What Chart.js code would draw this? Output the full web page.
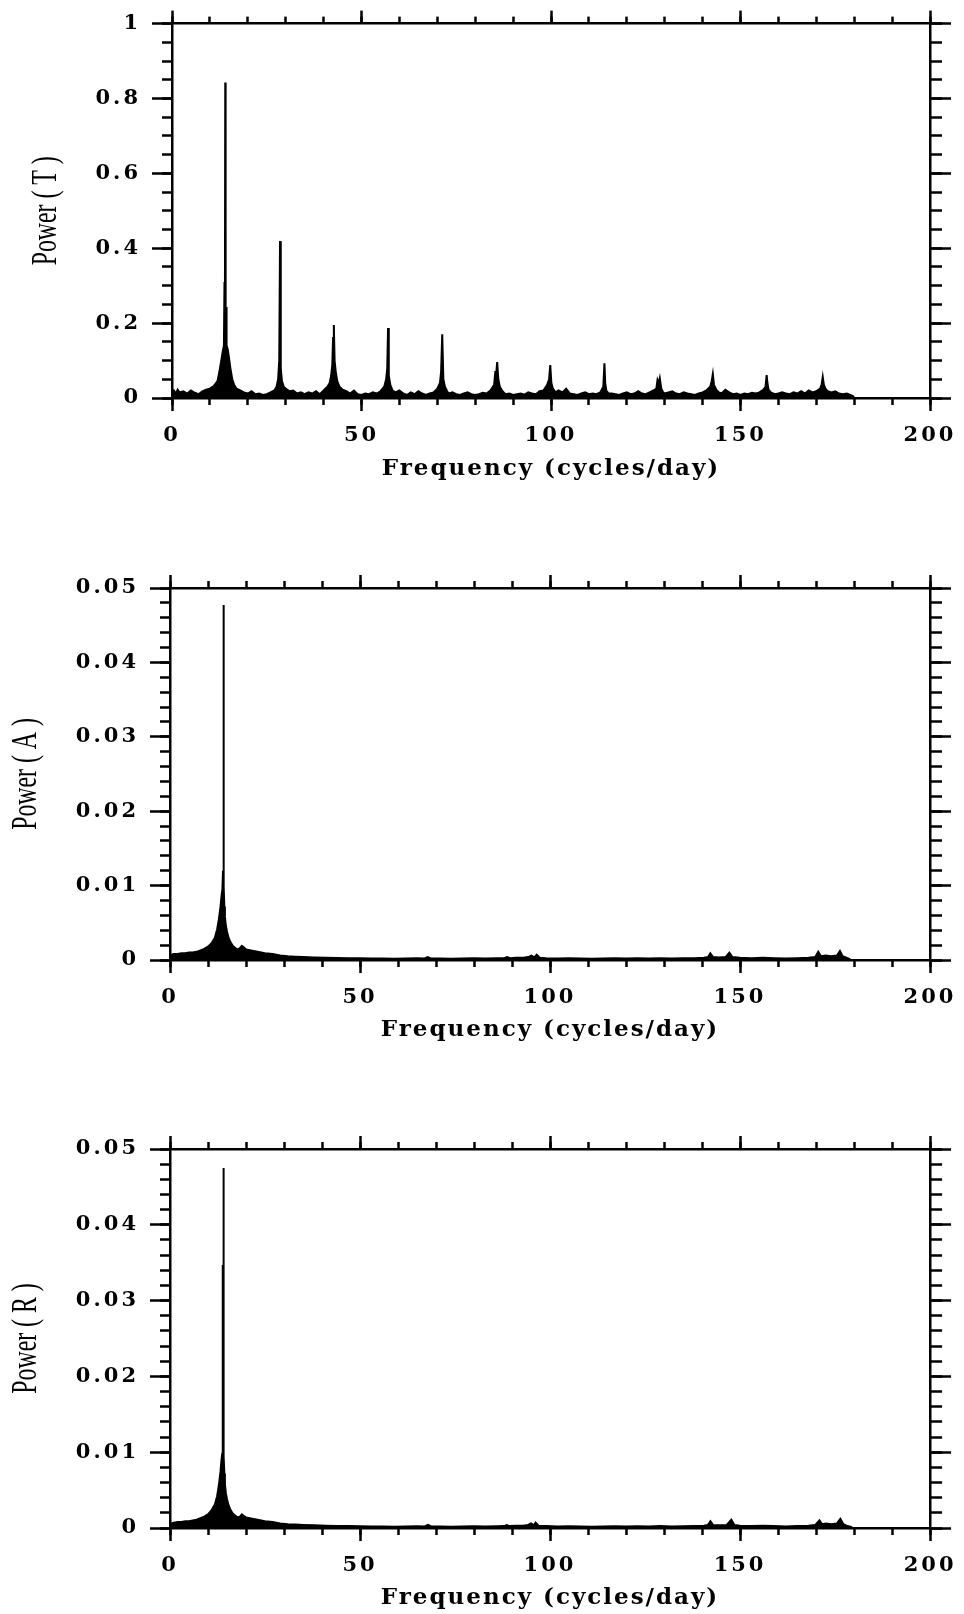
<!DOCTYPE html>
<html>
<head>
<meta charset="utf-8">
<title>Power spectra T / A / R</title>
<script src="https://cdn.jsdelivr.net/npm/chart.js@4.4.1/dist/chart.umd.min.js"></script>
<style>
  html, body { margin: 0; padding: 0; background: #fff; }
  body { width: 964px; height: 1614px; position: relative; overflow: hidden; }
  canvas { position: absolute; left: 0; }
</style>
</head>
<body>
<canvas id="chartT" width="964" height="490" style="top:0px"></canvas>
<canvas id="chartA" width="964" height="570" style="top:490px"></canvas>
<canvas id="chartR" width="964" height="554" style="top:1060px"></canvas>

<script>
// ----------------------
// data
// ----------------------
const xLabels = ["0", "50", "100", "150", "200"];
const yLabelsT = ["0", "0.2", "0.4", "0.6", "0.8", "1"];
const yLabelsAR = ["0", "0.01", "0.02", "0.03", "0.04", "0.05"];
const xTitle = "Frequency (cycles/day)";

// Power (T) – frequency / power, grouped by stretch of spectrum
const freqT = [
  0, 0.5, 1, 1.5, 2, 3, 4, 5, 6, 7, 8, 9, 10, 11,
  12.0, 12.5, 13.0, 13.4, 13.7, 13.85, 13.95, 14.05, 14.15, 14.25, 14.4, 14.7, 15.0, 15.4, 15.9, 16.4, 17.0,
  18, 19, 20, 21, 22, 23, 24, 25, 26, 27,
  27.6, 28.0, 28.3, 28.5, 28.7, 29.0, 29.5,
  30, 31, 32, 33, 34, 35, 36, 37, 38, 39, 40, 41,
  41.6, 42.0, 42.3, 42.5, 42.7, 42.9, 43.2, 43.6, 44.2, 45,
  46, 47, 48, 49, 50, 51, 52, 53, 54, 55, 56,
  56.5, 56.8, 57.0, 57.2, 57.6, 58.2,
  59, 60, 61, 62, 63, 64, 65, 66, 67, 68, 69, 70,
  70.7, 71.0, 71.3, 71.6, 72.0, 72.6,
  73, 74, 75, 76, 77, 78, 79, 80, 81, 82, 83, 84, 85,
  85.3, 85.6, 85.8, 86.1, 86.5, 87.2,
  88, 89, 90, 91, 92, 93, 94, 95, 96, 97, 98, 99,
  99.5, 99.8, 100.1, 100.5, 101.2,
  102, 103, 104, 105, 106, 107, 108, 109, 110, 111, 112, 113,
  113.8, 114.1, 114.3, 114.6, 115.2,
  116, 117, 118, 119, 120, 121, 122, 123, 124, 125, 126, 127,
  127.8, 128.1, 128.4, 128.7, 129.1, 129.6,
  130, 131, 132, 133, 134, 135, 136, 137, 138, 139, 140, 141,
  142.0, 142.4, 142.7, 143.0, 143.6, 144.3,
  145, 146, 147, 148, 149, 150, 151, 152, 153, 154, 155, 156,
  156.6, 156.9, 157.1, 157.4, 158,
  159, 160, 161, 162, 163, 164, 165, 166, 167, 168, 169, 170, 171,
  171.4, 171.7, 172.0, 172.4, 173,
  174, 175, 176, 177, 178, 179, 180
];
const powerT = [
  0.01, 0.02, 0.012, 0.022, 0.015, 0.018, 0.012, 0.02, 0.014, 0.01, 0.018, 0.022, 0.025, 0.032,
  0.045, 0.07, 0.1, 0.125, 0.14, 0.31, 0.15, 0.843, 0.16, 0.243, 0.14, 0.13, 0.11, 0.08, 0.05, 0.035, 0.025,
  0.02, 0.015, 0.012, 0.018, 0.01, 0.012, 0.008, 0.01, 0.015, 0.02,
  0.03, 0.05, 0.1, 0.419, 0.08, 0.045, 0.03,
  0.025, 0.018, 0.02, 0.012, 0.015, 0.01, 0.015, 0.012, 0.018, 0.01, 0.02, 0.03,
  0.04, 0.06, 0.09, 0.16, 0.195, 0.1, 0.07, 0.045, 0.03, 0.022,
  0.018, 0.012, 0.02, 0.01, 0.008, 0.012, 0.01, 0.015, 0.012, 0.018, 0.03,
  0.05, 0.08, 0.187, 0.06, 0.035, 0.02,
  0.015, 0.02, 0.012, 0.008, 0.015, 0.01, 0.018, 0.012, 0.008, 0.012, 0.015, 0.025,
  0.04, 0.07, 0.17, 0.05, 0.03, 0.018,
  0.012, 0.015, 0.01, 0.008, 0.012, 0.015, 0.01, 0.008, 0.01, 0.014, 0.012, 0.02, 0.035,
  0.07, 0.072, 0.096, 0.05, 0.03, 0.018,
  0.01, 0.012, 0.008, 0.01, 0.012, 0.009, 0.015, 0.012, 0.01, 0.018, 0.02, 0.035,
  0.05, 0.088, 0.04, 0.025, 0.015,
  0.02, 0.015, 0.025, 0.012, 0.01, 0.008, 0.012, 0.015, 0.01, 0.012, 0.01, 0.015,
  0.03, 0.093, 0.04, 0.02, 0.012,
  0.012, 0.01, 0.008, 0.012, 0.015, 0.01, 0.012, 0.018, 0.012, 0.01, 0.015, 0.02,
  0.025, 0.048, 0.04, 0.053, 0.025, 0.015,
  0.012, 0.015, 0.018, 0.012, 0.01, 0.015, 0.012, 0.01, 0.008, 0.012, 0.015, 0.02,
  0.03, 0.045, 0.064, 0.035, 0.022, 0.015,
  0.012, 0.022, 0.015, 0.01, 0.012, 0.008, 0.012, 0.01, 0.014, 0.012, 0.015, 0.022,
  0.03, 0.061, 0.04, 0.022, 0.015,
  0.01, 0.012, 0.015, 0.012, 0.01, 0.015, 0.012, 0.018, 0.012, 0.02, 0.015, 0.018, 0.025,
  0.035, 0.056, 0.035, 0.025, 0.018,
  0.015, 0.018, 0.012, 0.01, 0.012, 0.008, 0.003
];

// Power (A)
const freqA = [
  0, 0.3, 1, 2, 3, 4, 5, 6, 7, 8,
  9, 10, 11, 11.8, 12.4, 12.9, 13.3, 13.6, 13.8, 13.95,
  14.05, 14.12, 14.2, 14.3, 14.45, 14.7, 15.0, 15.4, 15.9, 16.5,
  17.2, 17.8, 18.4, 18.9, 19.4, 20, 21, 22, 23, 24,
  25, 27, 29, 31, 33, 35, 38, 41, 44, 47,
  50, 53, 56, 59, 62, 65, 67, 67.8, 68.6, 71,
  74, 77, 80, 83, 86, 88, 88.7, 89.5, 91, 93,
  94.3, 95.1, 95.9, 96.5, 97.3, 99, 102, 105, 108, 111,
  114, 117, 120, 123, 126, 129, 132, 135, 138, 140.5,
  141.6, 142.2, 142.9, 144.5, 146.2, 147.2, 148, 150, 153, 156,
  159, 162, 165, 168, 169.8, 170.6, 171.3, 172.5, 174, 175.5,
  176.3, 177, 178, 179
];
const powerA = [
  0.0002, 0.0007, 0.0008, 0.0008, 0.0009, 0.0009, 0.001, 0.001, 0.0011, 0.0013,
  0.0015, 0.0018, 0.0023, 0.003, 0.0041, 0.0056, 0.0072, 0.0088, 0.0095, 0.012,
  0.0477, 0.0168, 0.0098, 0.0072, 0.0058, 0.0046, 0.0038, 0.003, 0.0024, 0.0019,
  0.0016, 0.0014, 0.0016, 0.0019, 0.0017, 0.0014, 0.0013, 0.0012, 0.0011, 0.001,
  0.0009, 0.0008, 0.0006, 0.0005, 0.00045, 0.0004, 0.00035, 0.0003, 0.00028, 0.00025,
  0.00022, 0.0002, 0.0002, 0.00018, 0.0002, 0.00022, 0.0002, 0.0004, 0.0002, 0.0002,
  0.00018, 0.0002, 0.00022, 0.0002, 0.00022, 0.00025, 0.0004, 0.00025, 0.0003, 0.0003,
  0.0004, 0.0006, 0.00035, 0.0007, 0.0003, 0.00025, 0.0002, 0.00022, 0.0002, 0.00018,
  0.0002, 0.00022, 0.0002, 0.00022, 0.0002, 0.00025, 0.0002, 0.00022, 0.00025, 0.0003,
  0.0004, 0.0009, 0.0004, 0.00035, 0.0004, 0.001, 0.0004, 0.0003, 0.00025, 0.0003,
  0.00025, 0.0002, 0.00025, 0.0003, 0.0004, 0.0011, 0.0005, 0.0006, 0.0005, 0.0006,
  0.0012, 0.0005, 0.0003, 0.0001
];

// Power (R)
const freqR = [
  0, 0.3, 1, 2, 3, 4, 5, 6, 7, 8,
  9, 10, 11, 11.8, 12.4, 12.9, 13.3, 13.55, 13.75, 13.88,
  13.95, 14.02, 14.1, 14.2, 14.3, 14.45, 14.7, 15.0, 15.4, 15.9,
  16.5, 17.2, 17.8, 18.4, 18.9, 19.4, 20, 21, 22, 23,
  24, 25, 27, 29, 31, 33, 35, 38, 41, 44,
  47, 50, 53, 56, 59, 62, 65, 67, 67.9, 68.7,
  71, 74, 77, 80, 83, 86, 88, 88.6, 89.4, 91,
  93, 94.2, 95, 95.8, 96.2, 97, 99, 102, 105, 108,
  111, 114, 117, 120, 123, 126, 129, 132, 135, 138,
  140.5, 141.5, 142.2, 142.9, 144.5, 146.5, 147.7, 148.5, 150, 153,
  156, 159, 162, 165, 168, 169.8, 170.9, 171.6, 172.5, 174,
  175.5, 176.4, 177.2, 178, 179.5
];
const powerR = [
  0.0002, 0.0006, 0.0007, 0.0008, 0.0008, 0.0009, 0.0009, 0.001, 0.0011, 0.0013,
  0.0015, 0.0018, 0.0024, 0.0031, 0.0042, 0.0058, 0.0075, 0.009, 0.0098, 0.0347,
  0.012, 0.0475, 0.0166, 0.0095, 0.0072, 0.0058, 0.0046, 0.0038, 0.003, 0.0024,
  0.0019, 0.0016, 0.0014, 0.0015, 0.0018, 0.0016, 0.0014, 0.0013, 0.0012, 0.0011,
  0.001, 0.0009, 0.0008, 0.0006, 0.0005, 0.00045, 0.0004, 0.00035, 0.0003, 0.00028,
  0.00025, 0.00022, 0.0002, 0.0002, 0.00018, 0.0002, 0.00022, 0.0002, 0.0004, 0.0002,
  0.0002, 0.00018, 0.0002, 0.00022, 0.0002, 0.00022, 0.00025, 0.0004, 0.00025, 0.0003,
  0.0003, 0.0004, 0.0006, 0.00035, 0.0007, 0.0003, 0.00025, 0.0002, 0.00022, 0.0002,
  0.00018, 0.0002, 0.00022, 0.0002, 0.00022, 0.0002, 0.00025, 0.0002, 0.00022, 0.00025,
  0.0003, 0.0004, 0.0009, 0.0004, 0.00035, 0.0004, 0.0011, 0.0004, 0.0003, 0.00025,
  0.0003, 0.00025, 0.0002, 0.00025, 0.0003, 0.0004, 0.001, 0.0005, 0.0006, 0.0005,
  0.0006, 0.0012, 0.0005, 0.0003, 0.0001
];

// ----------------------
// fonts / text look
// ----------------------
const tickFont = { family: "'DejaVu Serif', serif", size: 21, weight: "bold" };
const xTitleFont = { family: "'DejaVu Serif', serif", size: 23, weight: "bold" };
const yTitleFont = { family: "'Liberation Serif', serif", size: 35, weight: "normal" };

// wide spaced labels, condensed y title (like the old plot)
const textStyle = {
  id: "textStyle",
  beforeDraw(chart) {
    chart.ctx.letterSpacing = "3px";
    Object.values(chart.scales).forEach(scale => {
      if (scale._styled) return;
      scale._styled = true;
      const drawTitle = scale.drawTitle;
      scale.drawTitle = function () {
        const ctx = this.ctx;
        ctx.save();
        if (this.axis === "y") {
          ctx.letterSpacing = "0px";
          const cy = (this.top + this.bottom) / 2;
          ctx.translate(0, cy);
          ctx.scale(1, 0.68);
          ctx.translate(0, -cy);
        } else {
          ctx.letterSpacing = "2px";
        }
        drawTitle.call(this);
        ctx.restore();
      };
    });
  }
};
Chart.register(textStyle);

// ----------------------
// scales: major + minor tick axes on all four sides
// ----------------------
function tickMarks(len) {
  return { drawOnChartArea: false, drawTicks: true, tickLength: len, tickWidth: 2.5, tickColor: "#000", color: "#000" };
}
const axisLine = { display: true, width: 2.5, color: "#000" };

function buildScales(p) {
  const xr = { type: "linear", axis: "x", min: 0, max: 200 };
  const yr = { type: "linear", axis: "y", min: 0, max: p.yMax };
  const hidden = step => ({ display: false, stepSize: step, maxTicksLimit: 1000 });

  return {
    x: {
      ...xr, position: "bottom", weight: 1,
      ticks: {
        stepSize: 50, maxTicksLimit: 1000, autoSkip: false, maxRotation: 0,
        padding: p.xTickPad, color: "#000", font: tickFont,
        callback: (v, i) => xLabels[i]
      },
      grid: tickMarks(13), border: axisLine,
      title: { display: true, text: xTitle, color: "#000", font: xTitleFont, padding: { top: 0, bottom: p.xTitlePad } },
      afterFit: s => { s.height = p.height - p.bottom; }
    },
    xMinor: {
      ...xr, position: "bottom", weight: 0,
      ticks: hidden(10), grid: tickMarks(7), border: { display: false },
      afterFit: s => { s.height = 0; }
    },
    xTop: {
      ...xr, position: "top", weight: 1,
      ticks: hidden(50), grid: tickMarks(13), border: axisLine,
      afterFit: s => { s.height = 0; }
    },
    xTopMinor: {
      ...xr, position: "top", weight: 0,
      ticks: hidden(10), grid: tickMarks(7), border: { display: false },
      afterFit: s => { s.height = 0; }
    },
    y: {
      ...yr, position: "left", weight: 1,
      ticks: {
        stepSize: p.yMajor, maxTicksLimit: 1000, autoSkip: false,
        padding: 11, color: "#000", font: tickFont,
        callback: (v, i) => p.yLabels[i]
      },
      grid: tickMarks(20), border: axisLine,
      title: { display: true, text: p.yTitle, color: "#000", font: yTitleFont, padding: { top: p.yTitlePad, bottom: 0 } },
      afterFit: s => { s.width = p.left; }
    },
    yMinor: {
      ...yr, position: "left", weight: 0,
      ticks: hidden(p.yMinor), grid: tickMarks(10), border: { display: false },
      afterFit: s => { s.width = 0; }
    },
    yRight: {
      ...yr, position: "right", weight: 1,
      ticks: hidden(p.yMajor), grid: tickMarks(21), border: axisLine,
      afterFit: s => { s.width = 0; }
    },
    yRightMinor: {
      ...yr, position: "right", weight: 0,
      ticks: hidden(p.yMinor), grid: tickMarks(12), border: { display: false },
      afterFit: s => { s.width = 0; }
    }
  };
}

// ----------------------
// one spectrum panel
// ----------------------
function drawPanel(canvasId, freq, power, p) {
  const ctx = document.getElementById(canvasId).getContext("2d");
  return new Chart(ctx, {
    type: "line",
    data: {
      datasets: [{
        data: freq.map((f, i) => ({ x: f, y: power[i] })),
        xAxisID: "x",
        yAxisID: "y",
        borderColor: "#000",
        backgroundColor: "#000",
        borderWidth: 2,
        pointRadius: 0,
        tension: 0,
        fill: "origin"
      }]
    },
    options: {
      responsive: false,
      animation: false,
      events: [],
      layout: { padding: { top: p.top, right: 964 - p.right, left: 0, bottom: 0 } },
      plugins: { legend: { display: false }, tooltip: { enabled: false } },
      scales: buildScales(p)
    }
  });
}

drawPanel("chartT", freqT, powerT, {
  top: 23, bottom: 398, left: 172, right: 930, height: 490,
  yMax: 1, yMajor: 0.2, yMinor: 0.05, yLabels: yLabelsT,
  yTitle: "Power ( T )", yTitlePad: 26, xTitlePad: 7, xTickPad: 12
});

drawPanel("chartA", freqA, powerA, {
  top: 98, bottom: 470, left: 170, right: 930, height: 570,
  yMax: 0.05, yMajor: 0.01, yMinor: 0.002, yLabels: yLabelsAR,
  yTitle: "Power ( A )", yTitlePad: 6, xTitlePad: 16, xTickPad: 12
});

drawPanel("chartR", freqR, powerR, {
  top: 89, bottom: 468, left: 170, right: 931, height: 554,
  yMax: 0.05, yMajor: 0.01, yMinor: 0.002, yLabels: yLabelsAR,
  yTitle: "Power ( R )", yTitlePad: 6, xTitlePad: 2, xTickPad: 12
});
</script>
</body>
</html>
